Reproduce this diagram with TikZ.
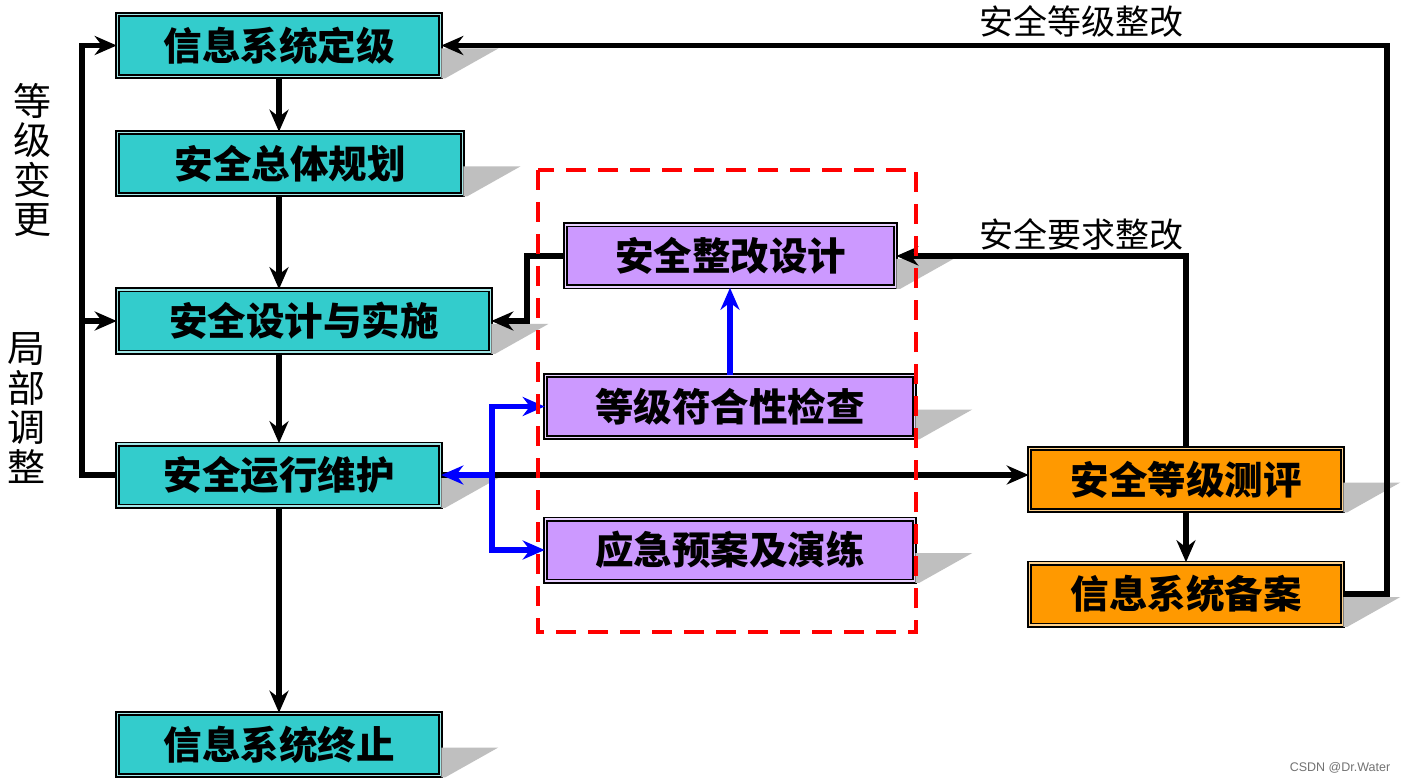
\documentclass[tikz,border=0pt]{standalone}
\usepackage{fontspec}
\newfontfamily\cjk{Noto Sans CJK SC}
\newfontfamily\wmfont{Liberation Sans}
\usetikzlibrary{arrows.meta,calc}
\definecolor{gradeTeal}{HTML}{33CCCC}
\definecolor{gradePurple}{HTML}{CC99FF}
\definecolor{gradeOrange}{HTML}{FF9900}
\definecolor{gradeShadow}{HTML}{BFBFBF}
\definecolor{gradeBlue}{HTML}{0000FF}
\definecolor{gradeRed}{HTML}{FF0000}

\begin{document}
\begin{tikzpicture}[x=1pt,y=-1pt,>={Stealth[length=22pt,width=19pt]}]
\path[fill=white] (0,0) rectangle (1407,783);
\tikzset{box/.style={draw=black,line width=1.6pt,double distance=1.8pt,minimum height=62pt,inner sep=0pt,font=\cjk\bfseries\fontsize{38.5}{42}\selectfont},tealbox/.style={box,fill=gradeTeal,double=white!55!gradeTeal},purplebox/.style={box,fill=gradePurple,double=white!55!gradePurple},orangebox/.style={box,fill=gradeOrange,double=white!55!gradeOrange},flow/.style={draw=black,line width=5.5pt},blueflow/.style={draw=gradeBlue,line width=5.5pt},side/.style={font=\cjk\fontsize{38}{39.5}\selectfont,align=center},note/.style={font=\cjk\fontsize{34}{38}\selectfont}}
% boxes
\node[tealbox,minimum width=323pt] (jdj) at (279,45.5) {信息系统定级};
\node[tealbox,minimum width=345pt] (ghj) at (290,163.5) {安全总体规划};
\node[tealbox,minimum width=373pt] (ss) at (304,321) {安全设计与实施};
\node[tealbox,minimum width=323pt] (yw) at (279,475) {安全运行维护};
\node[tealbox,minimum width=323pt] (zz) at (279,744.5) {信息系统终止};
\node[purplebox,minimum width=330pt] (zg) at (730.5,256) {安全整改设计};
\node[purplebox,minimum width=369pt] (jc) at (730,406.5) {等级符合性检查};
\node[purplebox,minimum width=369pt] (yj) at (730,550) {应急预案及演练};
\node[orangebox,minimum width=313pt] (cp) at (1186,479.5) {安全等级测评};
\node[orangebox,minimum width=313pt] (ba) at (1186,594) {信息系统备案};
% shadows
\foreach \n in {jdj,ghj,ss,yw,zz,zg,jc,yj,cp,ba} \fill[gradeShadow] ($(\n.east)+(0,3)$) -- ++(57,0) -- ($(\n.south east)+(4,1)$) -- ($(\n.south east)+(0,1)$) -- cycle;
% main flow
\draw[flow,->] (jdj.south) -- (jdj.south |- ghj.north);
\draw[flow,->] (jdj.south |- ghj.south) -- (jdj.south |- ss.north);
\draw[flow,->] (jdj.south |- ss.south) -- (jdj.south |- yw.north);
\draw[flow,->] (yw.south) -- (zz.north);
\coordinate (lbend) at (82,475); \draw[flow,->] (yw.west) -- (lbend) |- (jdj.west);
\draw[flow,->] (lbend |- ss.west) -- (ss.west);
\coordinate (rbend) at (1387,594); \draw[flow,->] (ba.east) -- (rbend) |- (jdj.east);
\draw[flow,->] (cp.north) |- (zg.east);
\coordinate (zbend) at (527,256); \draw[flow,->] (zg.west) -- (zbend) |- (ss.east);
\draw[flow,->] (yw.east) -- (yw.east -| cp.west);
\draw[flow,->] (cp.south) -- (ba.north);
% blue links
\coordinate (bfork) at (492,475);
\draw[blueflow,->] (bfork) -- (yw.east);
\draw[blueflow,->] (bfork) |- (jc.west);
\draw[blueflow,->] (bfork) |- (yj.west);
\draw[blueflow,->] (jc.north) -- (jc.north |- zg.south);
\draw[gradeRed,line width=4pt,dash pattern=on 20pt off 12pt] (538,170) rectangle (916,632);
% labels
\node[note] (lblGrade) at (1081,21) {安全等级整改};
\node[note] (lblReq) at (1081,234) {安全要求整改};
\node[side] (lblChange) at (32,160) {等\\级\\变\\更};
\node[side] (lblLocal) at (26,408) {局\\部\\调\\整};
\node[font=\wmfont\fontsize{12.5}{14}\selectfont,text=black!55] (wm) at (1340,768) {CSDN @Dr.Water};
\end{tikzpicture}
\end{document}
